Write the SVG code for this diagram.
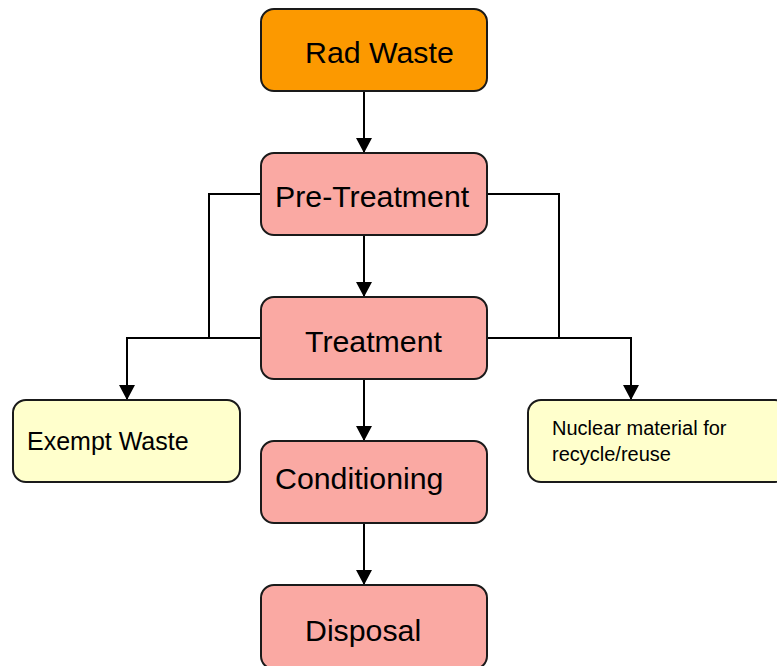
<svg xmlns="http://www.w3.org/2000/svg" width="777" height="666" viewBox="0 0 777 666">
<defs>
<marker id="ah" markerWidth="16" markerHeight="16" viewBox="0 0 16 16" refX="15" refY="8" orient="auto" markerUnits="userSpaceOnUse">
<path d="M0,0 L15,8 L0,16 Z" fill="#000"/>
</marker>
</defs>
<style>
.box{stroke:#1a1a1a;stroke-width:2}
.main{fill:#faa9a3}
.top{fill:#fc9900}
.side{fill:#ffffcc}
.big{font-family:"Liberation Sans",Arial,sans-serif;font-size:30.3px;fill:#000}
.mid{font-family:"Liberation Sans",Arial,sans-serif;font-size:25px;fill:#000}
.small{font-family:"Liberation Sans",Arial,sans-serif;font-size:20px;fill:#000}
.ln{fill:none;stroke:#000;stroke-width:2}
</style>
<rect width="777" height="666" fill="#fff"/>
<g id="connectors">
<line class="ln" x1="364" y1="91" x2="364" y2="153" marker-end="url(#ah)"/>
<line class="ln" x1="364" y1="235" x2="364" y2="297" marker-end="url(#ah)"/>
<line class="ln" x1="364" y1="379" x2="364" y2="441" marker-end="url(#ah)"/>
<line class="ln" x1="364" y1="523" x2="364" y2="585" marker-end="url(#ah)"/>
<polyline class="ln" points="261,194 209,194 209,338"/>
<polyline class="ln" points="261,338 127,338 127,400" marker-end="url(#ah)"/>
<polyline class="ln" points="487,194 559,194 559,338"/>
<polyline class="ln" points="487,338 631,338 631,400" marker-end="url(#ah)"/>
</g>
<g id="rad-waste">
<rect class="box top" x="261" y="9" width="226" height="82" rx="13"/>
<text class="big" x="305" y="63">Rad Waste</text>
</g>
<g id="pre-treatment">
<rect class="box main" x="261" y="153" width="226" height="82" rx="13"/>
<text class="big" x="275" y="207">Pre-Treatment</text>
</g>
<g id="treatment">
<rect class="box main" x="261" y="297" width="226" height="82" rx="13"/>
<text class="big" x="305" y="352">Treatment</text>
</g>
<g id="conditioning">
<rect class="box main" x="261" y="441" width="226" height="82" rx="13"/>
<text class="big" x="275" y="489">Conditioning</text>
</g>
<g id="disposal">
<rect class="box main" x="261" y="585" width="226" height="84" rx="13"/>
<text class="big" x="305" y="641">Disposal</text>
</g>
<g id="exempt-waste">
<rect class="box side" x="13" y="400" width="227" height="82" rx="13"/>
<text class="mid" x="27" y="450">Exempt Waste</text>
</g>
<g id="nuclear-material">
<rect class="box side" x="528" y="400" width="260" height="82" rx="13"/>
<text class="small" x="552" y="435">Nuclear material for</text>
<text class="small" x="552" y="461">recycle/reuse</text>
</g>
</svg>
